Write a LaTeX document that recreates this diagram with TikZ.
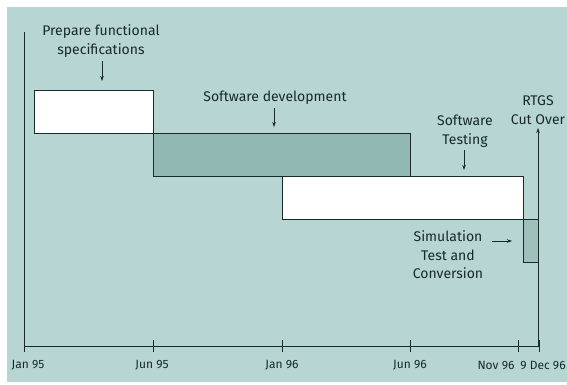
\documentclass[tikz,border=0pt]{standalone}
\usepackage{fontspec}
\setmainfont{Fira Sans}
\usetikzlibrary{arrows.meta}
\definecolor{bgteal}{RGB}{183,213,211}
\definecolor{darkbox}{RGB}{146,184,179}
\definecolor{simbox}{RGB}{160,192,188}
\definecolor{ink}{RGB}{24,42,42}
\tikzset{
  lbl/.style={text=ink, font=\fontsize{14}{18.5}\selectfont, align=center, inner sep=0pt},
  axlbl/.style={text=ink, font=\fontsize{12}{13}\selectfont, inner sep=0pt},
  bar/.style={draw=ink, line width=0.9pt},
  ptr/.style={draw=ink, line width=0.8pt, -{Stealth[length=5pt,width=3.5pt]}},
  axis/.style={draw=ink, line width=1pt},
}
\begin{document}
\begin{tikzpicture}[x=1pt,y=-1pt]
\useasboundingbox (0,0) rectangle (567,385);
\fill[white] (0,0) rectangle (567,385);
\fill[bgteal] (7,7) rectangle (567,382);
% bars
\draw[bar, fill=white] (34,90) rectangle (153,133);
\draw[bar, fill=darkbox] (153,133) rectangle (410,176);
\draw[bar, fill=white] (282,176) rectangle (523,219);
\draw[bar, fill=simbox] (523,219) rectangle (538,262);
% axes
\coordinate (top) at (24,32);
\coordinate (origin) at (24,346);
\coordinate (axend) at (539,346);
\draw[axis] (top) -- (origin) -- (axend);
\foreach \x in {153,282,410,518,539}{
  \draw[axis] (\x,340) -- (\x,352);
}
\draw[axis] (24,346) -- (24,352);
% axis labels
\node[axlbl] (l1) at (28,365) {Jan 95};
\node[axlbl] (l2) at (152,365) {Jun 95};
\node[axlbl] (l3) at (282,365) {Jan 96};
\node[axlbl] (l4) at (410,365) {Jun 96};
\node[axlbl] (l5) at (496,365) {Nov 96};
\node[axlbl] (l6) at (543,365) {9 Dec 96};
% cut over arrow
\coordinate (cutbase) at (538,346);
\coordinate (cuttip) at (538,128);
\draw[ptr] (cutbase) -- (cuttip);
\node[lbl] (rtgs) at (538,110) {RTGS\\Cut Over};
% labels and pointers
\node[lbl] (pfs) at (101,41) {Prepare functional\\specifications};
\coordinate (pfsT) at (102,81);
\draw[ptr] ([xshift=1pt,yshift=-4pt]pfs.south) -- (pfsT);
\node[lbl] (sd) at (275,98) {Software development};
\coordinate (sdT) at (274,127);
\draw[ptr] ([xshift=-1pt,yshift=-3pt]sd.south) -- (sdT);
\node[lbl] (st) at (465,131) {Software\\Testing};
\coordinate (stT) at (464,170);
\draw[ptr] ([xshift=-1pt,yshift=-3pt]st.south) -- (stT);
\node[lbl] (sim) at (448,255) {Simulation\\Test and\\Conversion};
\coordinate (simS) at (492,241);
\coordinate (simT) at (512,241);
\draw[ptr] (simS) -- (simT);
\end{tikzpicture}
\end{document}
